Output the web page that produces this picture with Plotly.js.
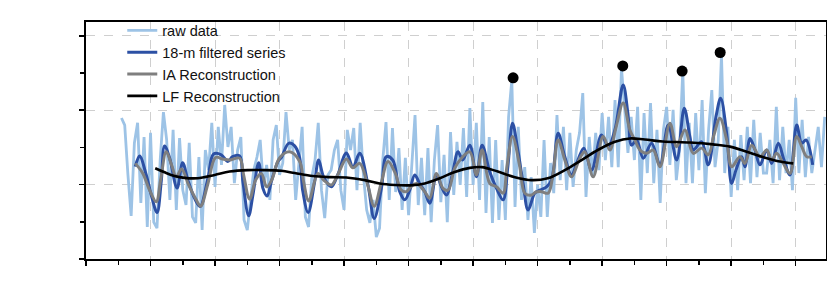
<!DOCTYPE html>
<html>
<head>
<meta charset="utf-8">
<script src="https://cdn.plot.ly/plotly-3.0.1.min.js"></script>
<style>html,body{margin:0;padding:0;background:#fff;}#chart{width:827px;height:285px;}</style>
</head>
<body>
<div id="chart"></div>
<script>
// ---- data (x in years from axis start, y in series units) ----
const rawStart = 5.5;
const rawStep = 0.5;
const rawValues = [
  3.79,3.60,2.26,1.16,3.12,3.66,1.51,3.28,0.86,3.39,0.99,0.83,2.66,3.95,3.20,1.59,3.47,1.32,3.25,1.85,
  1.45,3.12,1.13,0.97,2.74,0.78,2.93,2.39,3.66,1.94,3.55,2.53,4.14,3.01,3.55,2.04,2.93,3.28,1.05,0.78,
  1.59,2.39,2.74,3.20,1.94,2.53,1.59,3.20,3.60,2.26,2.58,3.95,2.93,3.20,1.59,2.66,3.55,1.13,0.86,2.20,
  2.66,3.66,1.85,1.10,2.26,2.39,2.93,3.20,1.85,1.32,3.47,2.93,3.52,1.85,3.66,2.26,1.32,0.97,1.59,0.59,
  0.83,2.66,3.68,1.59,3.52,1.80,2.98,1.32,2.72,1.18,2.58,3.87,1.45,2.72,1.18,2.98,0.99,2.66,3.60,1.53,
  2.80,0.99,3.41,1.72,3.15,1.99,3.52,1.67,4.06,1.99,3.66,1.59,4.22,1.24,3.28,0.97,3.20,1.05,2.66,1.05,
  3.82,4.81,1.40,3.55,1.59,2.47,1.05,2.20,0.70,1.99,1.13,3.20,1.13,2.58,1.77,3.87,2.12,3.55,1.85,3.39,
  1.94,2.93,3.39,4.46,1.67,3.28,2.20,3.39,2.39,3.92,2.66,3.82,2.47,4.27,2.47,5.13,4.01,2.85,3.82,2.66,
  4.09,1.59,3.92,2.31,4.19,2.04,3.47,1.51,3.47,4.09,2.53,4.01,2.12,2.93,5.08,2.04,3.66,2.04,3.92,2.39,
  4.27,1.77,3.47,4.54,2.47,3.20,5.48,2.31,3.55,1.67,3.20,1.85,3.33,2.12,3.55,2.04,3.74,2.20,3.39,2.31,
  2.31,3.20,2.04,4.09,2.12,3.55,2.31,3.20,1.85,4.33,2.31,3.74,2.20,3.28,2.31,2.93,3.55,2.47,3.82
];
const rawX = rawValues.map((_, i) => rawStart + i * rawStep);

const filtX = [7.63,8.30,9.34,10.11,11.01,11.66,12.18,12.95,14.12,14.97,15.79,16.83,17.68,18.89,19.78,20.97,21.99,22.72,23.81,24.32,
  25.21,25.87,26.76,27.42,28.07,28.73,29.75,30.32,31.41,32.34,33.12,33.58,34.43,35.44,36.06,36.84,38.03,39.01,40.36,41.38,
  42.42,43.71,44.67,45.79,46.56,47.54,48.63,49.40,50.18,50.95,51.73,52.51,53.28,54.32,55.10,55.87,56.85,57.67,58.40,59.49,
  60.52,61.39,62.59,63.63,64.65,65.38,66.11,66.93,67.75,68.53,69.57,70.34,71.38,72.16,73.18,74.22,75.26,76.24,77.17,78.36,
  79.91,80.94,81.98,83.26,83.99,84.57,85.34,86.37,87.67,88.96,90.24,91.55,92.73,93.61,94.12,95.42,96.45,97.64,98.37,99.30,
  100.08,100.74,101.63,102.14,102.92,103.69,104.47,105.51,106.28,107.31,108.19,109.12,110.16,110.94,111.60,112.64];
const filtY = [2.48,2.77,2.26,1.72,1.25,2.08,3.04,2.72,1.91,2.59,2.12,1.63,1.41,2.17,2.82,2.80,2.62,2.75,2.77,2.08,
  1.16,1.72,2.59,1.90,1.69,2.08,2.62,2.74,3.11,3.04,2.72,1.85,1.25,2.08,2.66,2.20,1.94,2.26,2.85,2.48,
  2.84,1.99,1.09,1.90,2.75,2.66,1.81,1.59,1.85,2.26,2.02,1.81,1.50,2.26,1.94,1.72,2.34,2.88,2.66,3.06,
  2.21,3.06,2.34,1.90,1.59,2.47,3.65,2.93,2.03,1.32,1.77,1.85,1.94,2.12,3.38,2.74,2.26,2.66,2.98,2.39,
  3.33,3.02,3.47,4.68,3.92,3.06,3.20,2.71,3.11,2.53,3.60,2.66,4.05,3.28,2.93,3.15,2.53,3.82,4.32,3.38,
  2.03,2.39,2.75,2.48,3.24,2.93,2.53,2.93,2.57,3.11,2.66,2.26,3.60,3.11,3.20,2.53];

const iaX = [7.63,8.81,9.85,10.89,11.56,12.44,13.26,13.99,14.81,15.90,17.09,17.76,18.85,20.09,21.17,22.26,23.81,24.43,25.36,26.29,
  27.18,28.00,28.78,30.02,31.57,33.12,33.74,34.52,35.95,36.84,38.03,39.01,40.36,41.34,42.42,43.66,44.67,45.79,46.81,47.85,
  48.89,49.67,50.33,51.22,52.51,53.28,54.32,55.34,56.12,57.16,58.20,59.49,60.52,61.39,62.59,63.63,64.65,65.22,66.11,67.24,
  68.02,69.06,69.72,70.61,71.63,72.36,73.18,74.22,75.26,76.55,77.32,78.61,80.16,81.19,82.13,83.26,84.30,85.07,85.85,86.89,
  87.92,88.96,90.51,91.55,92.83,94.12,95.42,96.45,97.33,98.26,99.30,100.08,101.37,102.14,103.18,104.47,105.51,106.28,107.06,108.04,
  109.12,110.16,110.94,111.72,112.49];
const iaY = [2.57,2.30,1.85,1.54,2.12,2.88,2.53,2.21,2.42,1.99,1.59,1.42,1.99,2.73,2.69,2.66,2.71,2.26,1.61,2.12,
  2.30,1.94,2.12,2.72,2.88,2.62,2.07,1.56,2.30,2.12,1.99,2.26,2.69,2.45,2.57,1.99,1.42,2.07,2.62,2.34,
  1.85,1.81,1.94,2.03,1.81,1.63,2.30,1.90,1.85,2.44,2.71,2.88,2.26,2.93,2.03,1.94,1.77,2.45,3.29,2.48,
  1.77,1.72,1.80,1.81,1.77,2.26,3.20,2.66,2.21,2.71,2.88,2.21,3.29,2.93,3.52,4.19,3.47,3.20,2.93,2.84,
  2.93,2.48,3.65,3.02,3.47,2.84,2.98,2.80,3.33,3.78,3.20,2.48,2.75,2.57,3.06,2.75,2.93,2.66,2.84,2.58,
  2.30,3.29,3.02,2.75,2.75];

const lfX = [10.73,12.18,13.73,15.28,17.29,19.94,22.26,25.05,27.38,30.28,32.34,35.13,37.77,40.36,43.20,45.52,47.85,50.18,52.51,54.84,
  57.16,59.49,61.35,63.83,66.47,69.06,71.58,74.22,76.81,79.34,82.00,84.30,86.62,89.41,93.61,97.18,99.81,102.40,104.93,107.57,109.63];
const lfY = [2.44,2.33,2.23,2.18,2.17,2.26,2.35,2.39,2.39,2.37,2.31,2.23,2.20,2.19,2.12,2.03,1.99,1.98,2.03,2.17,
  2.34,2.45,2.47,2.35,2.20,2.12,2.17,2.39,2.66,2.93,3.15,3.24,3.21,3.16,3.13,3.08,3.02,2.88,2.74,2.62,2.57];

const peakX = [66.2, 83.2, 92.4, 98.3];
const peakY = [4.87, 5.19, 5.05, 5.55];

const seriesNames = ['raw data', '18-m filtered series', 'IA Reconstruction', 'LF Reconstruction'];

// ---- traces ----
const traces = [
  {x: rawX, y: rawValues, name: seriesNames[0], mode: 'lines', type: 'scatter',
   line: {color: '#9dc3e6', width: 2.8}},
  {x: filtX, y: filtY, name: seriesNames[1], mode: 'lines', type: 'scatter',
   line: {color: '#2c50a4', width: 3, shape: 'spline', smoothing: 1}},
  {x: iaX, y: iaY, name: seriesNames[2], mode: 'lines', type: 'scatter',
   line: {color: '#7f7f7f', width: 3, shape: 'spline', smoothing: 1}},
  {x: lfX, y: lfY, name: seriesNames[3], mode: 'lines', type: 'scatter',
   line: {color: '#000000', width: 2.6, shape: 'spline', smoothing: 1}},
  {x: peakX, y: peakY, mode: 'markers', type: 'scatter', showlegend: false,
   marker: {color: '#000000', size: 11}}
];

const layout = {
  width: 827, height: 285,
  margin: {l: 86, r: 1, t: 22, b: 26, pad: 0},
  paper_bgcolor: '#ffffff', plot_bgcolor: '#ffffff',
  font: {family: 'Liberation Sans, Arial, sans-serif', size: 13, color: '#222'},
  showlegend: true,
  legend: {x: 0.049, y: 1.032, xanchor: 'left', yanchor: 'top',
    bgcolor: 'rgba(0,0,0,0)', borderwidth: 0,
    font: {family: 'Liberation Sans, Arial, sans-serif', size: 14.5, color: '#111'},
    tracegroupgap: 0, itemwidth: 30},
  xaxis: {range: [0, 114.7], dtick: 10, tick0: 0, ticks: 'outside', ticklen: 5, tickwidth: 1.5,
    tickcolor: '#000', showticklabels: false, showline: true, linecolor: '#000', linewidth: 2,
    mirror: true, zeroline: false, showgrid: true, gridcolor: '#cfcfcf', griddash: 'dash', gridwidth: 1,
    minor: {dtick: 5, ticks: 'outside', ticklen: 4, tickwidth: 1.5, tickcolor: '#000', showgrid: false}},
  yaxis: {range: [0, 6.37], dtick: 2, tick0: 0, ticks: 'outside', ticklen: 5, tickwidth: 1.5,
    tickcolor: '#000', showticklabels: false, showline: true, linecolor: '#000', linewidth: 2,
    mirror: true, zeroline: false, showgrid: true, gridcolor: '#cfcfcf', griddash: 'dash', gridwidth: 1,
    minor: {dtick: 1, ticks: 'outside', ticklen: 4, tickwidth: 1.5, tickcolor: '#000', showgrid: false}}
};

Plotly.newPlot('chart', traces, layout, {staticPlot: true, displayModeBar: false});
</script>
</body>
</html>
